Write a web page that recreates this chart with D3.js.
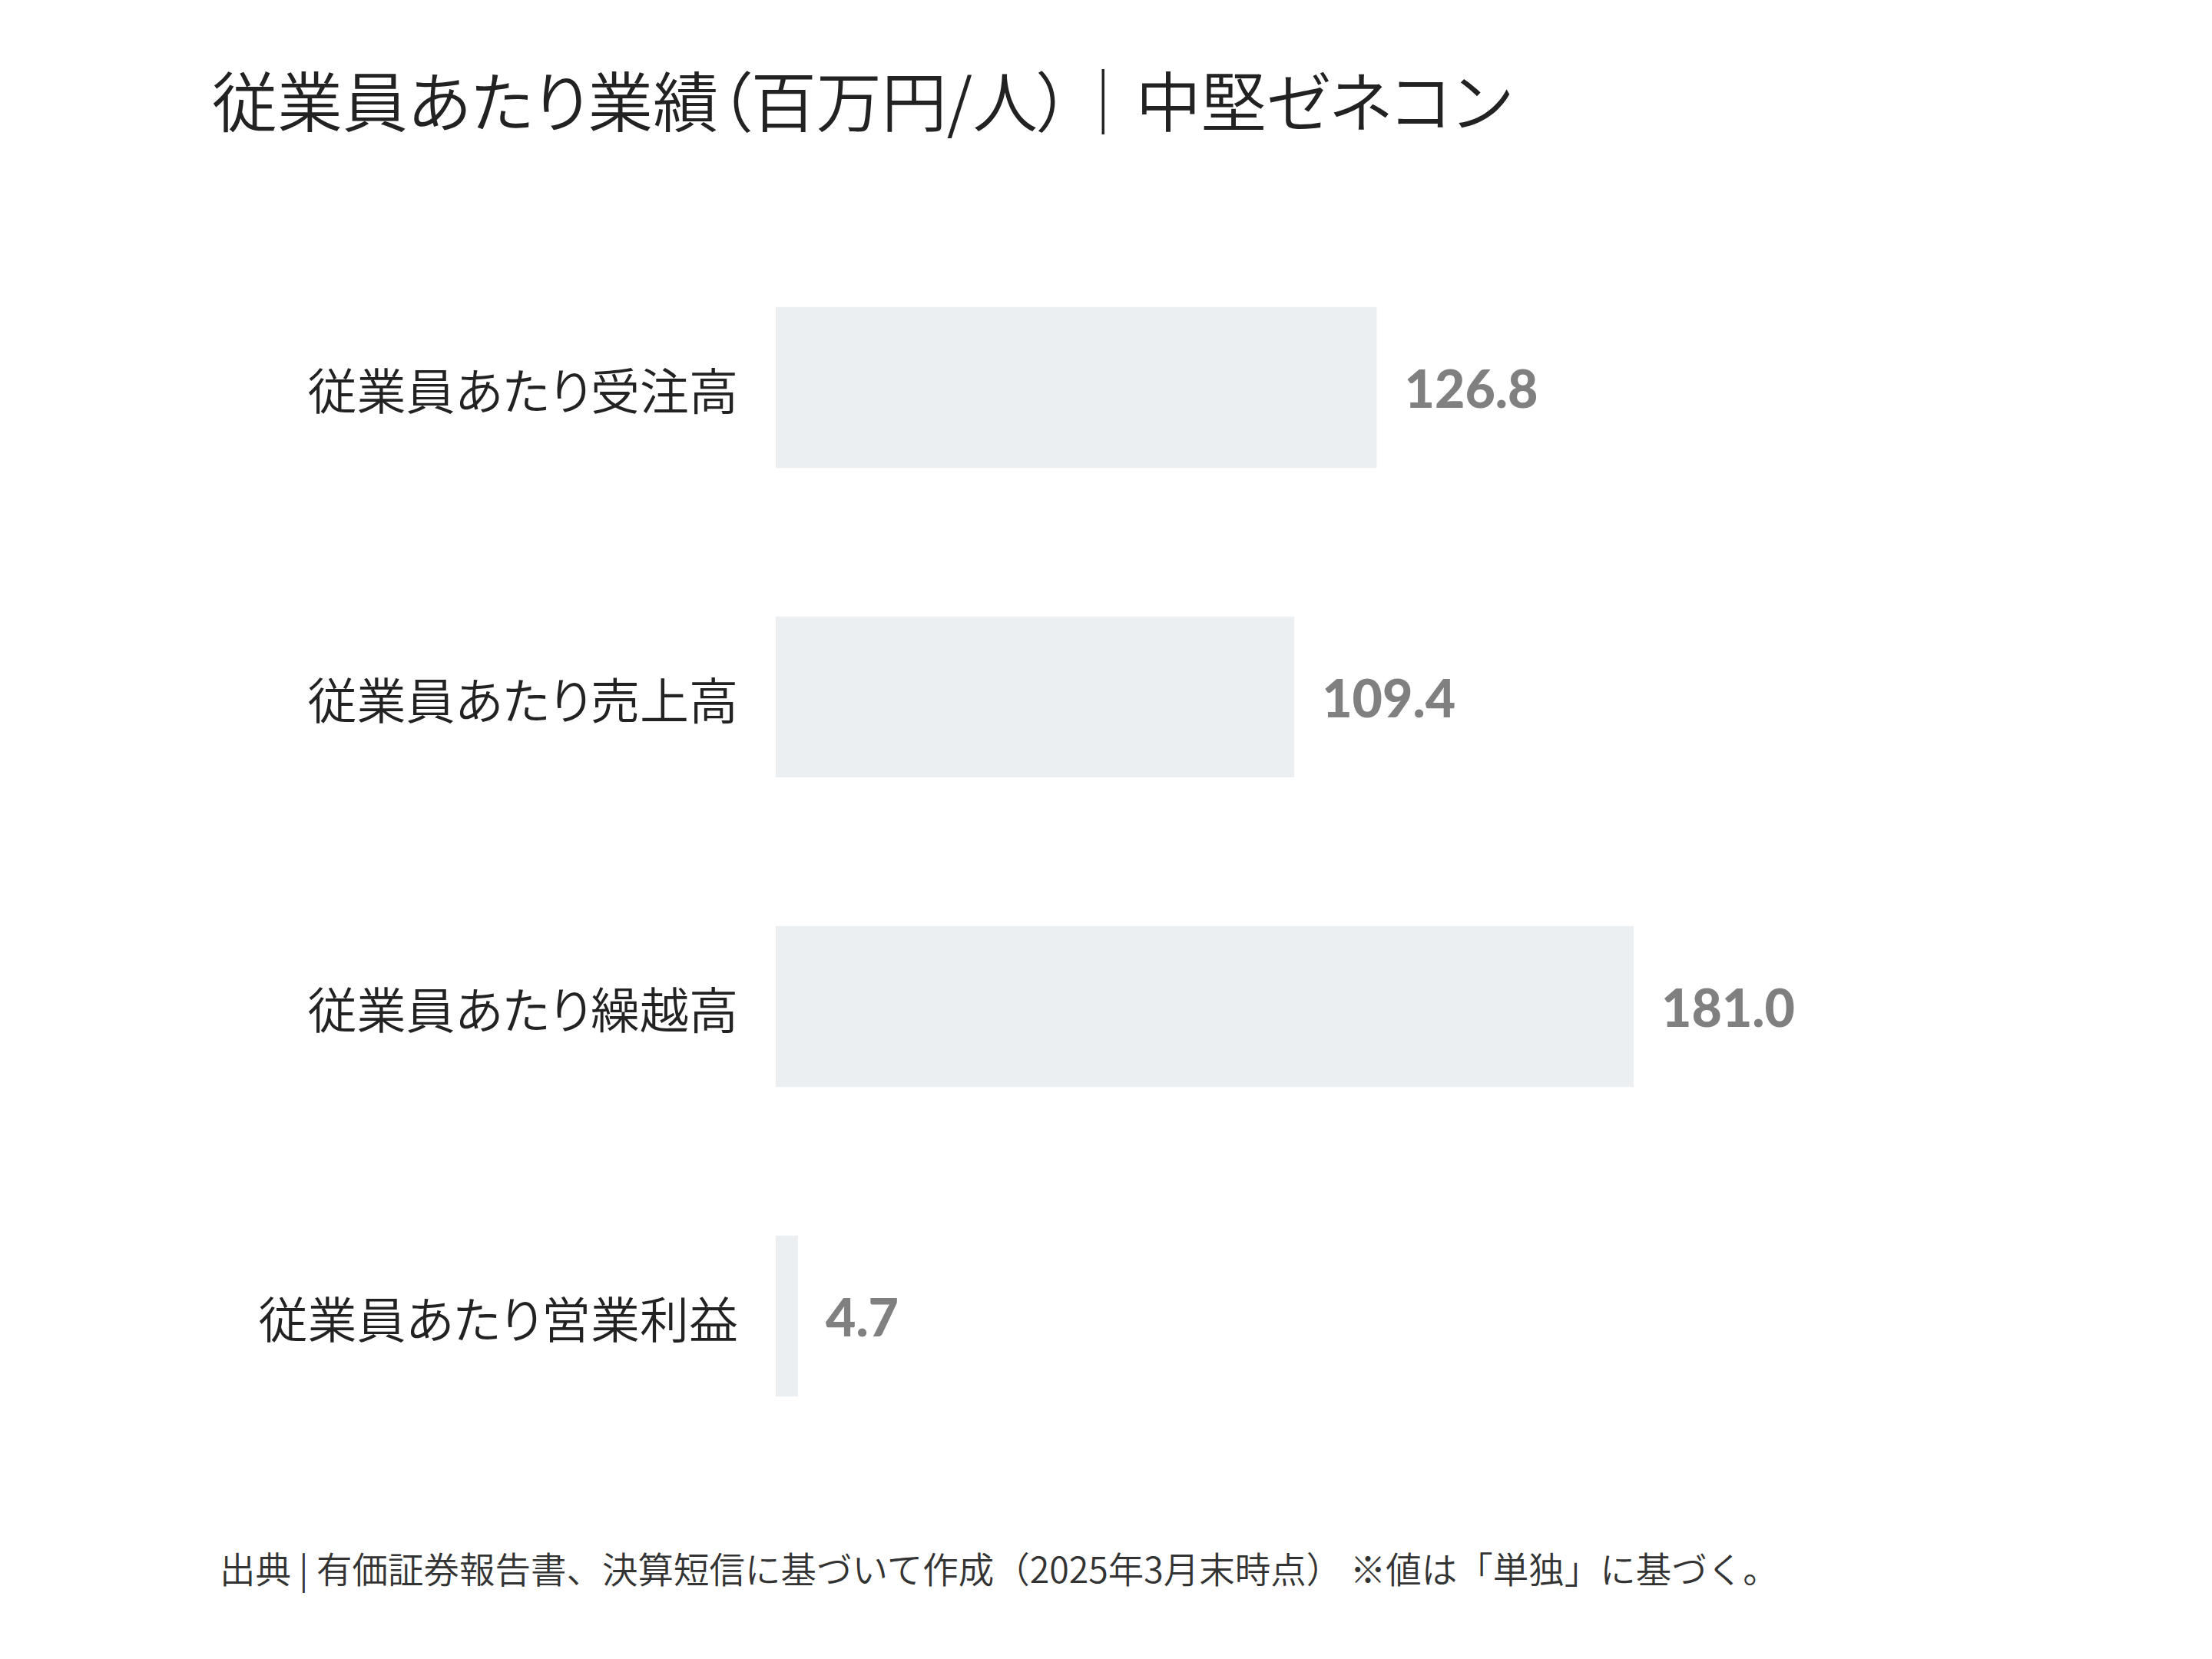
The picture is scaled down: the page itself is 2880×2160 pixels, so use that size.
<!DOCTYPE html>
<html>
<head>
<meta charset="utf-8">
<script src="https://cdn.jsdelivr.net/npm/d3@7"></script>
<style>
  html, body { margin: 0; padding: 0; background: #fff; }
  .jp { font-family: "Noto Sans CJK JP", "Noto Sans", sans-serif; font-weight: 350; }
  .palt { font-feature-settings: "palt"; }
  .num { font-family: Lato, "Open Sans", sans-serif; font-weight: 900; }
</style>
</head>
<body>
<div id="chart"></div>
<script>
const categories = ["従業員あたり受注高", "従業員あたり売上高", "従業員あたり繰越高", "従業員あたり営業利益"]
const values = [126.8, 109.4, 181.0, 4.7]
const title = "従業員あたり業績（百万円/人）｜中堅ゼネコン"
const note = "出典 | 有価証券報告書、決算短信に基づいて作成（2025年3月末時点） ※値は「単独」に基づく。"

const width = 2880, height = 2160

let svg = d3.select("#chart").append("svg")
  .attr("width", width)
  .attr("height", height)

svg.append("rect").attr("width", width).attr("height", height).attr("fill", "#fff")

let x = d3.scaleLinear()
  .domain([0, d3.max(values)])
  .range([1010, 2127])

let y = d3.scaleBand()
  .domain(categories)
  .range([303, 1915])
  .paddingInner(0.48)
  .paddingOuter(0.24)

const data = categories.map((c, i) => ({ name: c, value: values[i] }))

// title
svg.append("text")
  .attr("class", "jp palt")
  .attr("x", 276)
  .attr("y", 165)
  .attr("font-size", 85)
  .attr("fill", "#222")
  .text(title)

// bars
svg.append("g").selectAll("rect")
  .data(data)
  .enter().append("rect")
  .attr("x", x(0))
  .attr("y", d => y(d.name))
  .attr("width", d => x(d.value) - x(0))
  .attr("height", y.bandwidth())
  .attr("fill", "#ebeff2")

// category labels
svg.append("g").selectAll("text")
  .data(data)
  .enter().append("text")
  .attr("class", "jp palt")
  .attr("x", 961)
  .attr("y", d => y(d.name) + y.bandwidth() / 2)
  .attr("text-anchor", "end")
  .attr("dominant-baseline", "central")
  .attr("font-size", 64)
  .attr("fill", "#222")
  .text(d => d.name)

// value labels
svg.append("g").selectAll("text")
  .data(data)
  .enter().append("text")
  .attr("class", "num")
  .attr("x", d => x(d.value) + 36)
  .attr("y", d => y(d.name) + y.bandwidth() / 2 + 26)
  .attr("font-size", 68)
  .attr("fill", "#808080")
  .text(d => d3.format(".1f")(d.value))

// footnote
svg.append("text")
  .attr("class", "jp")
  .attr("x", 286)
  .attr("y", 2061)
  .attr("font-size", 46.5)
  .attr("fill", "#333")
  .text(note)
</script>
</body>
</html>
